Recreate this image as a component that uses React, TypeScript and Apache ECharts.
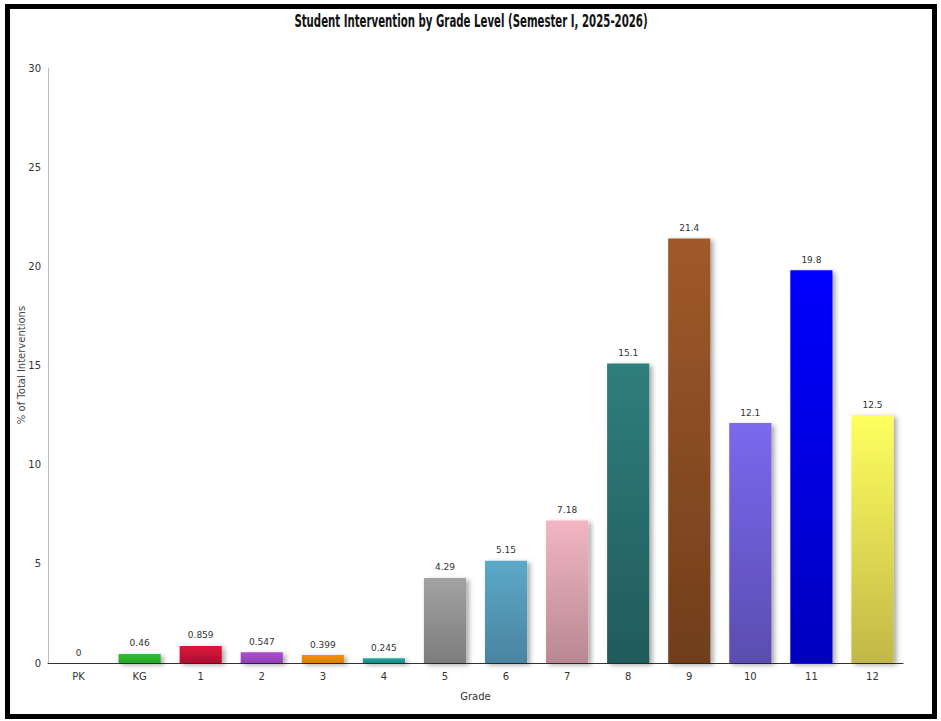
import React, { useEffect, useRef } from "react";
import * as echarts from "echarts";

const titleText = "Student Intervention by Grade Level (Semester I, 2025-2026)";
const categories = ["PK", "KG", "1", "2", "3", "4", "5", "6", "7", "8", "9", "10", "11", "12"];
const values = [0, 0.46, 0.859, 0.547, 0.399, 0.245, 4.29, 5.15, 7.18, 15.1, 21.4, 12.1, 19.8, 12.5];
const topColors = ["#888888", "#2fbf2f", "#dc143c", "#a94fcf", "#f39000", "#20a8a0", "#a3a3a3", "#5ca9c8", "#f2b6c2", "#2f7f7d", "#a0592a", "#7b68ee", "#0000ff", "#ffff5e"];
const bottomColors = ["#666666", "#26a526", "#b01030", "#9040b8", "#d88000", "#188a85", "#7c7c7c", "#4a84a0", "#b88892", "#215a5a", "#703e1c", "#5a4db0", "#0000c0", "#c2b848"];
const yTicks = [0, 5, 10, 15, 20, 25, 30];

export default function App() {
  const ref = useRef<HTMLDivElement>(null);
  useEffect(() => {
    document.body.style.margin = "0";
    const chart = echarts.init(ref.current!, null, { renderer: "svg" });
    const font = "'DejaVu Sans', sans-serif";
    chart.setOption({
      animation: false,
      graphic: [
        {
          type: "text",
          x: 461,
          y: 12,
          scaleX: 0.6,
          style: {
            text: titleText,
            x: 0,
            y: 0,
            align: "center",
            verticalAlign: "middle",
            fontFamily: font,
            fontSize: 17,
            fontWeight: "bold",
            fill: "#111",
          },
        },
        {
          type: "text",
          x: 11,
          y: 356,
          rotation: Math.PI / 2,
          style: {
            text: "% of Total Interventions",
            x: 0,
            y: 0,
            align: "center",
            verticalAlign: "middle",
            fontFamily: font,
            fontSize: 10,
            fill: "#444",
          },
        },
      ],
      grid: { left: 38, right: 29, top: 59, bottom: 51, containLabel: false, outerBoundsMode: "none" },
      xAxis: {
        type: "category",
        data: categories,
        name: "Grade",
        nameLocation: "middle",
        nameGap: 28,
        nameTextStyle: { fontFamily: font, fontSize: 10, color: "#333" },
        axisLine: { lineStyle: { color: "#333", width: 1 } },
        axisTick: { show: false },
        axisLabel: { fontFamily: font, fontSize: 10, color: "#333", margin: 8 },
      },
      yAxis: {
        type: "value",
        min: yTicks[0],
        max: yTicks[yTicks.length - 1],
        interval: 5,
        axisLine: { show: true, lineStyle: { color: "#bbb", width: 1 } },
        axisTick: { show: false },
        splitLine: { show: false },
        axisLabel: { fontFamily: font, fontSize: 10, color: "#333", margin: 7 },
      },
      series: [
        {
          type: "bar",
          barWidth: "69%",
          data: values.map((v, i) => ({
            value: v,
            itemStyle: {
              color: new echarts.graphic.LinearGradient(0, 0, 0, 1, [
                { offset: 0, color: topColors[i] },
                { offset: 1, color: bottomColors[i] },
              ]),
              shadowColor: "rgba(0,0,0,0.35)",
              shadowBlur: 5,
              shadowOffsetX: 3,
              shadowOffsetY: 2,
            },
          })),
          label: {
            show: true,
            position: "top",
            distance: 6,
            fontFamily: font,
            fontSize: 9,
            color: "#333",
            formatter: (p: any) => String(p.value),
          },
        },
      ],
    });
    return () => chart.dispose();
  }, []);
  return (
    <div
      style={{
        position: "fixed",
        left: 5,
        top: 4,
        width: 922,
        height: 705,
        border: "5px solid #000",
        background: "#fff",
      }}
    >
      <div ref={ref} style={{ width: 922, height: 705 }} />
    </div>
  );
}
